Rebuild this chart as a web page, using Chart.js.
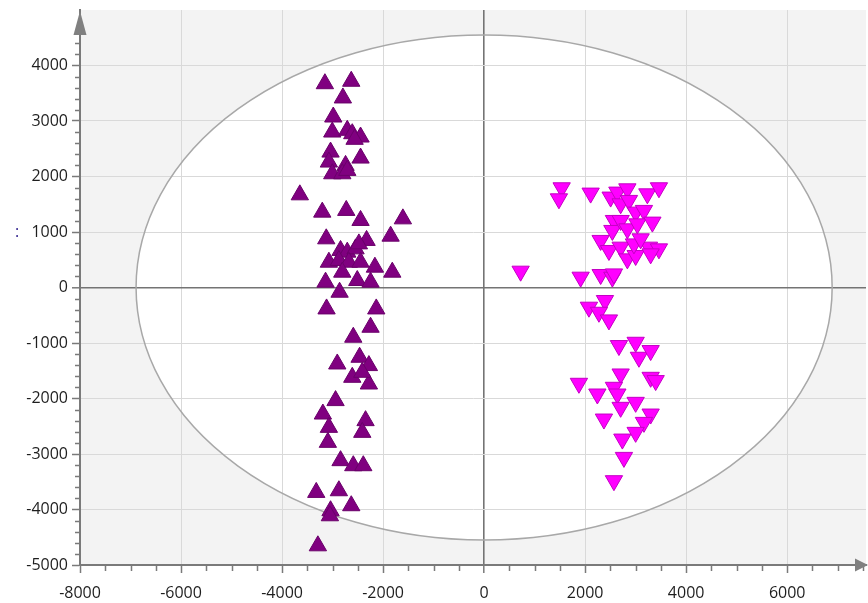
<!DOCTYPE html>
<html>
<head>
<meta charset="utf-8">
<script src="https://cdn.jsdelivr.net/npm/chart.js@4.4.0/dist/chart.umd.min.js"></script>
<style>
  body { margin: 0; background: #fff; }
  canvas { display: block; }
</style>
</head>
<body>
<canvas id="scoreChart" width="868" height="603"></canvas>
<script>
// group A scores (purple, triangle up)
const groupAX = [-3152, -2630, -2796, -2986, -3006, -2709, -2610, -2446, -2564, -3040, -2446, -3073, -2743, -3006, -2808, -2709,
  -3648, -3204, -2729, -2446, -1608, -3125, -2327, -1851, -2842, -2709, -2545, -2479, -3073, -2875, -2677, -2446,
  -2808, -2162, -1818, -3139, -2511, -2248, -2861, -3119, -2135, -2248, -2590, -2907, -2465, -2281, -2610, -2281,
  -2412, -2941, -3192, -3073, -3093, -2347, -2412, -2842, -2590, -2392, -3323, -2875, -2630, -3040, -3053, -3291];
const groupAY = [3672, 3716, 3415, 3072, 2801, 2832, 2771, 2711, 2670, 2440, 2332, 2260, 2200, 2049, 2049, 2110,
  1670, 1358, 1389, 1208, 1237, 877, 848, 925, 667, 637, 696, 786, 456, 487, 456, 456,
  276, 366, 276, 96, 126, 96, -85, -386, -386, -716, -896, -1378, -1257, -1407, -1618, -1739,
  -1528, -2038, -2280, -2520, -2790, -2399, -2610, -3120, -3211, -3211, -3692, -3662, -3932, -4022, -4113, -4654];

// group B scores (magenta, triangle down)
const groupBX = [1535, 1481, 2109, 2505, 2638, 2836, 2703, 2867, 3232, 3461, 3000, 3164, 2570, 2539, 2703, 2836,
  3034, 3331, 2307, 2471, 2703, 2836, 3000, 2966, 3263, 3461, 3297, 3099, 723, 1911, 2307, 2539,
  2570, 2392, 2075, 2273, 2471, 2669, 3000, 3065, 3297, 2703, 3297, 3396, 1877, 2242, 2570, 2638,
  2703, 3000, 2372, 3297, 3164, 3000, 2737, 2768, 2570];
const groupBY = [1797, 1598, 1701, 1629, 1719, 1778, 1508, 1569, 1688, 1797, 1358, 1389, 1208, 1028, 1208, 1057,
  1147, 1178, 848, 667, 727, 516, 577, 786, 727, 696, 606, 877, 294, 186, 234, 186,
  245, -234, -355, -446, -584, -1046, -987, -1257, -1136, -1558, -1618, -1677, -1726, -1919, -1798, -1919,
  -2159, -2069, -2370, -2280, -2430, -2610, -2731, -3061, -3481];

// axis ticks
const xTicks = [-8000, -6000, -4000, -2000, 0, 2000, 4000, 6000];
const yTicks = [-5000, -4000, -3000, -2000, -1000, 0, 1000, 2000, 3000, 4000];

// confidence ellipse half axes (t1, t2)
const ellipseRadius = [6890, 4550];

const groupA = groupAX.map((x, i) => ({ x: x, y: groupAY[i] }));
const groupB = groupBX.map((x, i) => ({ x: x, y: groupBY[i] }));

const axisGray = "#7a7a7a";

function ellipsePath(chart) {
  const { ctx, scales: { x, y } } = chart;
  const cx = x.getPixelForValue(0), cy = y.getPixelForValue(0);
  const rx = x.getPixelForValue(ellipseRadius[0]) - cx;
  const ry = cy - y.getPixelForValue(ellipseRadius[1]);
  ctx.beginPath();
  ctx.ellipse(cx, cy, rx, ry, 0, 0, Math.PI * 2);
}

// background, ellipse, minor ticks, arrows
const plotDecor = {
  id: "plotDecor",
  beforeDraw(chart) {
    const { ctx, chartArea: a } = chart;
    ctx.save();
    ctx.fillStyle = "#f3f3f3";
    ctx.fillRect(a.left, a.top, a.right - a.left, a.bottom - a.top);
    ellipsePath(chart);
    ctx.fillStyle = "#fff";
    ctx.fill();
    ctx.restore();
  },
  beforeDatasetsDraw(chart) {
    const ctx = chart.ctx;
    ctx.save();
    ellipsePath(chart);
    ctx.strokeStyle = "#a8a8a8";
    ctx.lineWidth = 1.5;
    ctx.stroke();
    ctx.restore();
  },
  afterDraw(chart) {
    const { ctx, chartArea: a, scales: { x, y } } = chart;
    ctx.save();
    ctx.strokeStyle = axisGray;
    ctx.lineWidth = 1.5;
    ctx.beginPath();
    // minor ticks, y every 200, x every 500
    for (let v = -4800; v <= 4600; v += 200) {
      if (v % 1000 === 0) continue;
      const py = Math.round(y.getPixelForValue(v)) + 0.5;
      ctx.moveTo(a.left - 5, py);
      ctx.lineTo(a.left, py);
    }
    for (let v = -7500; v <= 7500; v += 500) {
      if (v % 2000 === 0) continue;
      const px = Math.round(x.getPixelForValue(v)) + 0.5;
      ctx.moveTo(px, a.bottom);
      ctx.lineTo(px, a.bottom + 6);
    }
    ctx.stroke();

    // arrow heads
    ctx.fillStyle = "#808080";
    ctx.beginPath();
    ctx.moveTo(a.left, 11);
    ctx.lineTo(a.left - 6.5, 35);
    ctx.lineTo(a.left + 6.5, 35);
    ctx.closePath();
    ctx.fill();
    ctx.beginPath();
    ctx.moveTo(868, a.bottom);
    ctx.lineTo(855, a.bottom - 6.5);
    ctx.lineTo(855, a.bottom + 6.5);
    ctx.closePath();
    ctx.fill();

    // clipped axis title remnant
    ctx.fillStyle = "#2a1a8a";
    ctx.font = "16px 'Open Sans'";
    ctx.textAlign = "center";
    ctx.textBaseline = "middle";
    ctx.fillText(":", 17, 232);
    ctx.restore();
  }
};

const gridColor = (c) => (c.tick && c.tick.value === 0 ? "#747474" : "#d9d9d9");
const gridWidth = (c) => (c.tick && c.tick.value === 0 ? 1.6 : 1);
const plainLabel = (v) => String(v);

const chart = new Chart(document.getElementById("scoreChart"), {
  type: "scatter",
  data: {
    datasets: [{
      label: "Group A",
      data: groupA,
      pointStyle: "triangle",
      pointRadius: 10,
      pointHoverRadius: 10,
      backgroundColor: "#800080",
      borderColor: "#6a006a",
      borderWidth: 1
    }, {
      label: "Group B",
      data: groupB,
      pointStyle: "triangle",
      rotation: 180,
      pointRadius: 10,
      pointHoverRadius: 10,
      backgroundColor: "#ff00ff",
      borderColor: "#c400c4",
      borderWidth: 1
    }]
  },
  options: {
    responsive: false,
    animation: false,
    layout: { autoPadding: false, padding: { top: 10, right: 2, left: 0, bottom: 0 } },
    plugins: {
      legend: { display: false },
      tooltip: { enabled: false }
    },
    scales: {
      x: {
        type: "linear",
        min: -8000,
        max: 7560,
        afterBuildTicks: (s) => { s.ticks = xTicks.map(v => ({ value: v })); },
        afterFit: (s) => { s.height = 38; s.paddingLeft = 0; s.paddingRight = 0; },
        grid: { color: gridColor, lineWidth: gridWidth, tickColor: axisGray, tickLength: 8, tickWidth: 1.5 },
        border: { display: true, color: axisGray, width: 2 },
        ticks: { callback: plainLabel, color: "#1e1e1e", font: { family: "'Open Sans'", size: 16 }, padding: 11, maxRotation: 0 }
      },
      y: {
        type: "linear",
        min: -5000,
        max: 5000,
        afterBuildTicks: (s) => { s.ticks = yTicks.map(v => ({ value: v })); },
        afterFit: (s) => { s.width = 80; s.paddingTop = 0; s.paddingBottom = 0; },
        grid: { color: gridColor, lineWidth: gridWidth, tickColor: axisGray, tickLength: 8, tickWidth: 1.5 },
        border: { display: true, color: axisGray, width: 2 },
        ticks: { callback: plainLabel, color: "#1e1e1e", font: { family: "'Open Sans'", size: 16 }, padding: 4 }
      }
    }
  },
  plugins: [plotDecor]
});
</script>
</body>
</html>
